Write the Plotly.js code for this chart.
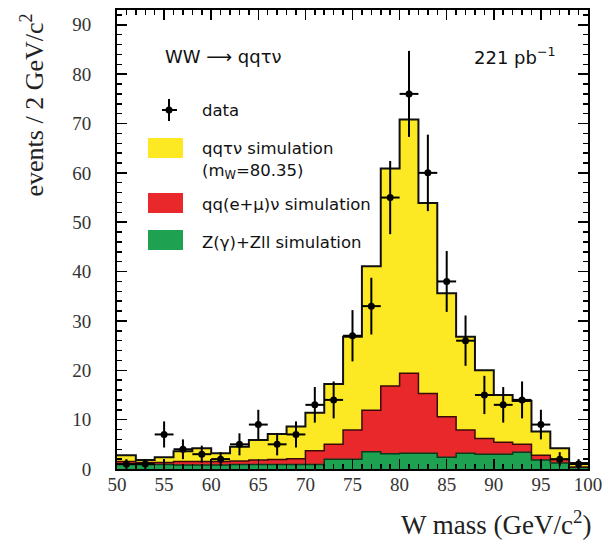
<!DOCTYPE html>
<html>
<head>
<meta charset="utf-8">
<script src="https://cdn.plot.ly/plotly-3.0.1.min.js"></script>
<style>
  html, body { margin: 0; padding: 0; background: #fff; }
  #chart { width: 604px; height: 548px; }
</style>
</head>
<body>
<div id="chart"></div>
<script>
// Bin edges of the W mass histogram (GeV/c^2), 2 GeV bins from 50 to 100
const binLow = [50,52,54,56,58,60,62,64,66,68,70,72,74,76,78,80,82,84,86,88,90,92,94,96,98];
const binWidth = 2;

// Simulated contributions per bin (events / 2 GeV/c^2)
const simZbkg  = [0.9,0.9,0.9,0.8,0.8,0.8,0.9,0.9,0.9,0.9,0.9,2.0,2.0,3.5,3.1,3.2,3.2,2.4,3.2,3.0,3.0,3.4,1.8,1.2,0.3];
const simQQlv  = [0.6,0.4,0.4,0.7,0.7,0.7,0.7,0.9,1.0,1.2,2.8,3.0,5.9,8.4,13.7,16.2,12.1,8.2,4.7,3.2,2.4,1.6,1.0,0.7,0.1];
const simQQtv  = [1.3,0.5,1.1,2.1,2.7,1.7,2.9,4.1,5.2,6.5,7.7,12.2,18.9,29.2,44.1,51.4,38.6,25.0,18.9,13.8,9.6,8.8,4.8,2.3,0.8];

// Observed events per bin
const dataCounts = [1,1,7,4,3,2,5,9,5,7,13,14,27,33,55,76,60,38,26,15,13,14,9,2,1];

const colYellow = '#FCE823';
const colRed    = '#E8282A';
const colGreen  = '#1EA150';

// Step-histogram helper: edges on x, value repeated for the closing edge
function stepXY(vals) {
  const x = binLow.concat([binLow[binLow.length - 1] + binWidth]);
  const y = vals.concat([vals[vals.length - 1]]);
  return {x, y};
}
function addArr(a, b) { return a.map((v, i) => v + b[i]); }

const cumGreen = simZbkg.slice();
const cumRed = addArr(cumGreen, simQQlv);
const cumYellow = addArr(cumRed, simQQtv);

const sG = stepXY(cumGreen), sR = stepXY(cumRed), sY = stepXY(cumYellow);

const traces = [
  {x: sG.x, y: sG.y, type: 'scatter', mode: 'lines', line: {shape: 'hv', color: '#0b3b1c', width: 1.5},
   fill: 'tozeroy', fillcolor: colGreen, hoverinfo: 'skip', showlegend: false},
  {x: sR.x, y: sR.y, type: 'scatter', mode: 'lines', line: {shape: 'hv', color: '#3a0a0a', width: 1.5},
   fill: 'tonexty', fillcolor: colRed, hoverinfo: 'skip', showlegend: false},
  {x: sY.x, y: sY.y, type: 'scatter', mode: 'lines', line: {shape: 'hv', color: '#111', width: 2},
   fill: 'tonexty', fillcolor: colYellow, hoverinfo: 'skip', showlegend: false},
  {x: binLow.map(v => v + binWidth / 2), y: dataCounts, type: 'scatter', mode: 'markers',
   marker: {color: '#000', size: 7, symbol: 'circle'},
   error_y: {type: 'data', array: dataCounts.map(n => Math.sqrt(n)), color: '#000', thickness: 2, width: 0},
   error_x: {type: 'constant', value: binWidth / 2, color: '#000', thickness: 2, width: 0},
   showlegend: false}
];

// pixel -> paper helpers for the in-plot legend
const M = {l: 117, r: 16, t: 10, b: 79};
const PW = 604 - M.l - M.r, PH = 548 - M.t - M.b;
const px = x => (x - M.l) / PW;
const py = y => (548 - M.b - y) / PH;

const legFont = {family: 'DejaVu Sans', size: 16.5, color: '#111'};
const serif = 'Liberation Serif';

const ann = [
  {text: 'WW \u27F6 qq\u03C4\u03BD', x: px(163), y: py(56), xref: 'paper', yref: 'paper', xanchor: 'left', yanchor: 'middle', showarrow: false,
   font: {family: 'DejaVu Sans', size: 18, color: '#111'}},
  {text: '221 pb<sup>\u22121</sup>', x: px(558), y: py(56), xref: 'paper', yref: 'paper', xanchor: 'right', yanchor: 'middle', showarrow: false,
   font: {family: 'DejaVu Sans', size: 18, color: '#111'}},
  {text: 'data', x: px(200), y: py(110), xref: 'paper', yref: 'paper', xanchor: 'left', yanchor: 'middle', showarrow: false, font: legFont},
  {text: 'qq\u03C4\u03BD simulation', x: px(200), y: py(148), xref: 'paper', yref: 'paper', xanchor: 'left', yanchor: 'middle', showarrow: false, font: legFont},
  {text: '(m<sub>W</sub>=80.35)', x: px(200), y: py(172), xref: 'paper', yref: 'paper', xanchor: 'left', yanchor: 'middle', showarrow: false, font: legFont},
  {text: 'qq(e+\u03BC)\u03BD simulation', x: px(200), y: py(204), xref: 'paper', yref: 'paper', xanchor: 'left', yanchor: 'middle', showarrow: false, font: legFont},
  {text: 'Z(\u03B3)+Zll simulation', x: px(200), y: py(242), xref: 'paper', yref: 'paper', xanchor: 'left', yanchor: 'middle', showarrow: false, font: legFont},
  // axis titles, placed at the axis ends
  {text: 'events / 2 GeV/c<sup>2</sup>', textangle: -90, x: px(33), y: py(12), xref: 'paper', yref: 'paper', xanchor: 'center', yanchor: 'top', showarrow: false,
   font: {family: serif, size: 26, color: '#222'}},
  {text: 'W mass (GeV/c<sup>2</sup>)', x: px(593), y: py(523), xref: 'paper', yref: 'paper', xanchor: 'right', yanchor: 'middle', showarrow: false,
   font: {family: serif, size: 27, color: '#222'}}
];

const shapes = [
  {type: 'rect', xref: 'paper', yref: 'paper', x0: px(148), x1: px(183), y0: py(158), y1: py(138), fillcolor: colYellow, line: {width: 0}},
  {type: 'rect', xref: 'paper', yref: 'paper', x0: px(148), x1: px(183), y0: py(213), y1: py(193), fillcolor: colRed, line: {width: 0}},
  {type: 'rect', xref: 'paper', yref: 'paper', x0: px(148), x1: px(183), y0: py(250), y1: py(230), fillcolor: colGreen, line: {width: 0}},
  {type: 'line', xref: 'paper', yref: 'paper', x0: px(169), x1: px(169), y0: py(99), y1: py(121), line: {color: '#000', width: 2}},
  {type: 'line', xref: 'paper', yref: 'paper', x0: px(162), x1: px(177), y0: py(110), y1: py(110), line: {color: '#000', width: 2}},
  {type: 'circle', xref: 'paper', yref: 'paper', x0: px(165.5), x1: px(172.5), y0: py(113.5), y1: py(106.5), fillcolor: '#000', line: {width: 0}}
];

const axisCommon = {
  showline: true, linecolor: '#000', linewidth: 2, mirror: 'ticks',
  ticks: 'inside', ticklen: 10, tickwidth: 1.5, tickcolor: '#000',
  showgrid: false, zeroline: false,
  tickfont: {family: serif, size: 19, color: '#333'}
};

const layout = {
  width: 604, height: 548,
  margin: M,
  paper_bgcolor: '#fff', plot_bgcolor: '#fff',
  showlegend: false,
  xaxis: Object.assign({}, axisCommon, {
    range: [50, 100], tickmode: 'linear', tick0: 50, dtick: 5,
    minor: {ticks: 'inside', ticklen: 5, tickwidth: 1.5, tickcolor: '#000', dtick: 1, showgrid: false},
    ticklabelstandoff: -3
  }),
  yaxis: Object.assign({}, axisCommon, {
    range: [0, 93], tickmode: 'linear', tick0: 0, dtick: 10,
    minor: {ticks: 'inside', ticklen: 5, tickwidth: 1.5, tickcolor: '#000', dtick: 2, showgrid: false},
    ticklabelstandoff: 20
  }),
  annotations: ann,
  shapes: shapes
};

Plotly.newPlot('chart', traces, layout, {staticPlot: true, displayModeBar: false});
</script>
</body>
</html>
